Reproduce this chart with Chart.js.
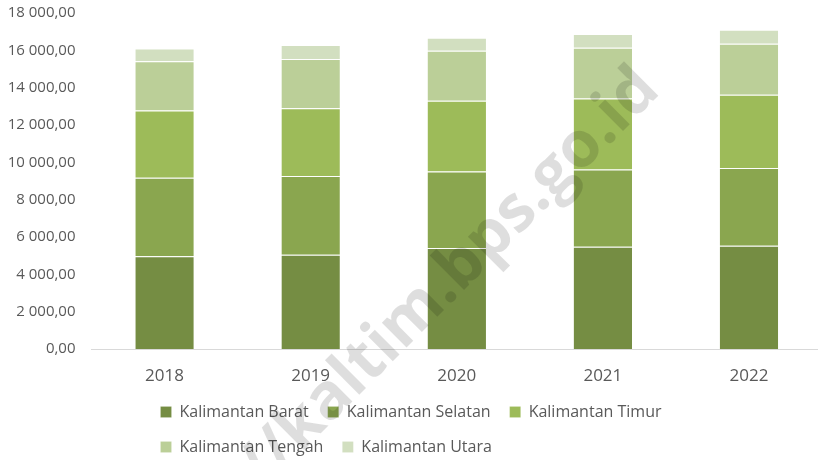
<!DOCTYPE html>
<html>
<head>
<meta charset="utf-8">
<script src="https://cdn.jsdelivr.net/npm/chart.js@4/dist/chart.umd.min.js"></script>
<style>
  html, body { margin: 0; padding: 0; background: #ffffff; overflow: hidden; }
  #wrap { position: relative; width: 822px; height: 465px; }
</style>
</head>
<body>
<div id="wrap"><canvas id="c"></canvas></div>
<script>
// ---- data ----
const years = ['2018', '2019', '2020', '2021', '2022'];
const kalBarat   = [4970, 5054, 5408, 5483, 5536];
const kalSelatan = [4208, 4216, 4098, 4131, 4164];
const kalTimur   = [3600, 3633, 3788, 3809, 3916];
const kalTengah  = [2633, 2628, 2682, 2714, 2736];
const kalUtara   = [683, 751, 698, 735, 751];
const seriesNames = ['Kalimantan Barat', 'Kalimantan Selatan', 'Kalimantan Timur', 'Kalimantan Tengah', 'Kalimantan Utara'];
const yMin = 0, yMax = 18000, yStep = 2000;
const watermarkText = 'https://kaltim.bps.go.id';

const colors = ['#758D43', '#8AA64F', '#9DBB59', '#BBCF98', '#D2DFC0'];
const seriesValues = [kalBarat, kalSelatan, kalTimur, kalTengah, kalUtara];

function fmt(v) {
  const s = Math.round(v).toString().replace(/\B(?=(\d{3})+(?!\d))/g, ' ');
  return s + ',00';
}

// legend: wrap like the reference (3 + 2 items, rows left-aligned in a centered block)
const LegendCls = Chart.registry.getPlugin('legend')._element;
const origFitRows = LegendCls.prototype._fitRows;
LegendCls.prototype._fitRows = function (...args) {
  const mw = this.maxWidth;
  this.maxWidth = Math.min(mw, 640);
  const r = origFitRows.apply(this, args);
  this.maxWidth = mw;
  const m = Math.max(...this.lineWidths);
  this.lineWidths = this.lineWidths.map(() => m);
  return r;
};

const watermark = {
  id: 'watermark',
  afterDraw(chart) {
    const ctx = chart.ctx;
    ctx.save();
    ctx.translate(662, 92);
    ctx.rotate(-Math.PI / 4);
    ctx.font = 'bold 64px "Open Sans", "Liberation Sans", sans-serif';
    ctx.fillStyle = 'rgba(0,0,0,0.13)';
    ctx.textAlign = 'right';
    ctx.textBaseline = 'alphabetic';
    ctx.fillText(watermarkText, 0, 0);
    ctx.restore();
  }
};

new Chart(document.getElementById('c'), {
  type: 'bar',
  data: {
    labels: years,
    datasets: seriesValues.map((vals, i) => ({
      label: seriesNames[i],
      data: vals,
      backgroundColor: colors[i],
      borderColor: 'rgba(255,255,255,0.6)',
      borderWidth: { top: 1, left: 0, right: 0, bottom: 0 },
      borderSkipped: false,
      categoryPercentage: 1,
      barPercentage: 0.4
    }))
  },
  options: {
    responsive: true,
    maintainAspectRatio: false,
    animation: false,
    devicePixelRatio: 1,
    layout: { padding: { top: 13, left: 0, right: 0, bottom: 0 } },
    plugins: {
      legend: {
        position: 'bottom',
        labels: {
          boxWidth: 11,
          boxHeight: 11,
          padding: 19,
          color: '#595959',
          font: { family: '"Open Sans", sans-serif', size: 16 }
        }
      },
      tooltip: { enabled: false }
    },
    scales: {
      x: {
        stacked: true,
        grid: { display: false, drawTicks: false },
        border: { display: true, color: '#D9D9D9', width: 1 },
        afterFit(scale) { scale.height = 36; },
        ticks: {
          padding: 17,
          color: '#595959',
          font: { family: '"Open Sans", sans-serif', size: 17 }
        }
      },
      y: {
        stacked: true,
        min: yMin,
        max: yMax,
        grid: { display: false, drawTicks: false },
        border: { display: false },
        afterFit(scale) { scale.width = 91.5; scale.paddingTop = 0; scale.paddingBottom = 0; },
        ticks: {
          stepSize: yStep,
          padding: 16,
          color: '#595959',
          font: { family: '"Open Sans", sans-serif', size: 15 },
          callback: (v) => fmt(v)
        }
      }
    }
  },
  plugins: [watermark]
});
</script>
</body>
</html>
